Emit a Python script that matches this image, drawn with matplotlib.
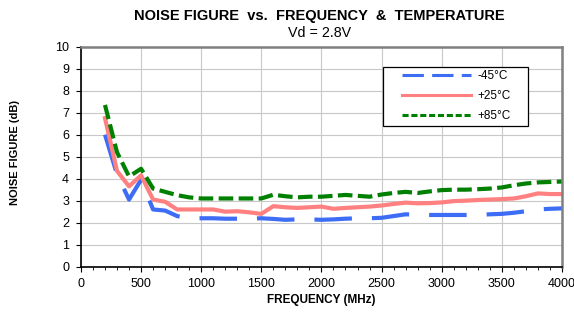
import numpy as np
import matplotlib
matplotlib.use("Agg")
import matplotlib.pyplot as plt
from matplotlib.ticker import MultipleLocator
from matplotlib.lines import Line2D
from matplotlib.patches import Rectangle

plt.rcParams['font.family'] = ['Liberation Sans', 'DejaVu Sans']

freq = list(range(200, 4001, 100))

nf_m45 = [6.0, 4.2, 3.05, 3.95, 2.6, 2.55, 2.3, 2.2, 2.2, 2.2,
          2.18, 2.18, 2.18, 2.2, 2.17, 2.13, 2.15, 2.15, 2.13, 2.15,
          2.18, 2.2, 2.2, 2.22, 2.3, 2.38, 2.36, 2.35, 2.35, 2.35,
          2.35, 2.35, 2.38, 2.4, 2.45, 2.52, 2.6, 2.63, 2.65]
nf_p25 = [6.75, 4.35, 3.65, 4.15, 3.05, 2.95, 2.6, 2.6, 2.6, 2.6,
          2.5, 2.52, 2.47, 2.4, 2.75, 2.7, 2.67, 2.7, 2.73, 2.63,
          2.67, 2.7, 2.73, 2.78, 2.85, 2.91, 2.88, 2.89, 2.92, 2.98,
          3.0, 3.03, 3.05, 3.07, 3.1, 3.2, 3.33, 3.3, 3.3]
nf_p85 = [7.35, 5.2, 4.1, 4.45, 3.55, 3.4, 3.25, 3.15, 3.1, 3.1,
          3.1, 3.1, 3.1, 3.1, 3.27, 3.2, 3.15, 3.18, 3.18, 3.22,
          3.26, 3.22, 3.18, 3.28, 3.35, 3.4, 3.35, 3.42, 3.48, 3.5,
          3.5, 3.52, 3.55, 3.6, 3.7, 3.78, 3.83, 3.85, 3.87]

labels = ["-45°C", "+25°C", "+85°C"]
c_blue, c_red, c_green = '#3d6df5', '#ff8080', '#008000'

fig = plt.figure(figsize=(5.74, 3.13), dpi=100)
ax = fig.add_axes([0.141, 0.148, 0.838, 0.703])

lw = 3.0
ax.plot(freq, nf_m45, color=c_blue, lw=lw, dashes=(9, 4.8))
ax.plot(freq, nf_p25, color=c_red, lw=lw)
ax.plot(freq, nf_p85, color=c_green, lw=lw, dashes=(3.5, 1.3))

ax.set_xlim(0, 4000)
ax.set_ylim(0, 10)
ax.xaxis.set_major_locator(MultipleLocator(500))
ax.xaxis.set_minor_locator(MultipleLocator(100))
ax.yaxis.set_major_locator(MultipleLocator(1))
ax.grid(True, which='major', color='#c8c8c8', lw=0.8)
ax.set_axisbelow(True)
ax.tick_params(which='both', direction='out', labelsize=9, pad=5)
ax.tick_params(which='major', length=3.5)
ax.tick_params(which='minor', length=2.5)

for s in ['left', 'bottom']:
    ax.spines[s].set_color('black')
    ax.spines[s].set_linewidth(1.2)
for s in ['top', 'right']:
    ax.spines[s].set_color('#808080')
    ax.spines[s].set_linewidth(1.8)

ax.set_xlabel("FREQUENCY (MHz)", fontsize=8.5, fontweight='bold')
ax.xaxis.set_label_coords(0.5, -0.125)
fig.text(0.027, 0.514, "NOISE FIGURE (dB)", rotation=90, ha='center', va='center',
         fontsize=8, fontweight='bold')

fig.text(0.556, 0.950, "NOISE FIGURE  vs.  FREQUENCY  &  TEMPERATURE",
         ha='center', va='center', fontsize=10.5, fontweight='bold')
fig.text(0.556, 0.896, "Vd = 2.8V", ha='center', va='center', fontsize=10.3)

# legend box (Excel style: wide side margins)
ax.add_patch(Rectangle((0.627, 0.641), 0.302, 0.268, transform=ax.transAxes,
                       facecolor='white', edgecolor='black', lw=0.9, zorder=5))
handles = [Line2D([], [], color=c_blue, lw=2.2, dashes=(7, 2.7)),
           Line2D([], [], color=c_red, lw=2.2),
           Line2D([], [], color=c_green, lw=2.2, dashes=(2, 0.9))]
leg = ax.legend(handles, labels, loc='upper left', bbox_to_anchor=(0.667, 0.893),
                borderaxespad=0, borderpad=0, fontsize=8.5, frameon=False,
                handlelength=5.85, handletextpad=0.6, labelspacing=0.69)
leg.set_zorder(6)

fig.savefig("out.png", dpi=100)
